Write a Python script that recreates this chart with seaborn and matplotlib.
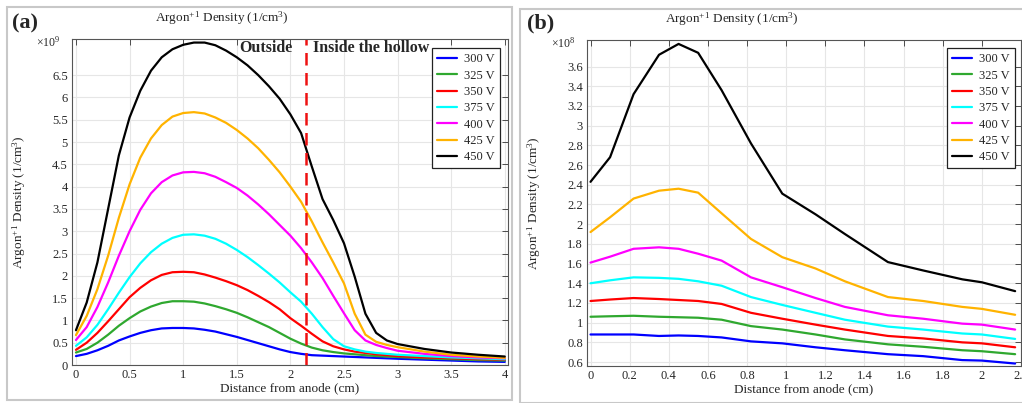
import numpy as np
import pandas as pd
import seaborn as sns
import matplotlib.pyplot as plt
from matplotlib.patches import Rectangle


volts = ['300 V', '325 V', '350 V', '375 V', '400 V', '425 V', '450 V']
colors = ['#0000ff', '#2fa82f', '#ff0000', '#00ffff', '#ff00ff', '#ffb300', '#000000']

# panel (a): density in 1e9 1/cm^3
x_a = [0, 0.1, 0.2, 0.3, 0.4, 0.5, 0.6, 0.7, 0.8, 0.9, 1.0, 1.1, 1.2, 1.3, 1.4, 1.5, 1.6, 1.7,
       1.8, 1.9, 2.0, 2.1, 2.2, 2.3, 2.4, 2.5, 2.6, 2.7, 2.8, 2.9, 3.0, 3.25, 3.5, 3.75, 4.0]
a_300 = [0.2, 0.25, 0.33, 0.43, 0.55, 0.64, 0.72, 0.78, 0.82, 0.83, 0.83, 0.82, 0.79, 0.75, 0.69, 0.63, 0.56, 0.49,
         0.42, 0.35, 0.29, 0.25, 0.22, 0.21, 0.2, 0.19, 0.18, 0.17, 0.16, 0.15, 0.14, 0.12, 0.1, 0.08, 0.07]
a_325 = [0.28, 0.36, 0.5, 0.68, 0.88, 1.05, 1.2, 1.31, 1.39, 1.43, 1.43, 1.42, 1.38, 1.32, 1.25, 1.17, 1.07, 0.96,
         0.85, 0.72, 0.59, 0.48, 0.39, 0.33, 0.29, 0.26, 0.24, 0.22, 0.2, 0.19, 0.18, 0.15, 0.13, 0.11, 0.1]
a_350 = [0.34, 0.5, 0.72, 0.98, 1.25, 1.52, 1.73, 1.9, 2.02, 2.08, 2.09, 2.08, 2.03, 1.96, 1.88, 1.79, 1.68, 1.55,
         1.41, 1.25, 1.05, 0.88, 0.7, 0.53, 0.42, 0.35, 0.3, 0.27, 0.24, 0.22, 0.2, 0.17, 0.15, 0.13, 0.12]
a_375 = [0.43, 0.62, 0.9, 1.25, 1.62, 1.97, 2.28, 2.53, 2.72, 2.85, 2.92, 2.93, 2.9, 2.83, 2.72, 2.58, 2.42, 2.24,
         2.05, 1.85, 1.63, 1.42, 1.15, 0.85, 0.58, 0.42, 0.35, 0.3, 0.27, 0.25, 0.23, 0.2, 0.17, 0.15, 0.13]
a_400 = [0.56, 0.85, 1.3, 1.85, 2.45, 3.0, 3.48, 3.85, 4.1, 4.25, 4.32, 4.33, 4.3, 4.22, 4.1, 3.97, 3.8, 3.6,
         3.38, 3.14, 2.9, 2.62, 2.3, 1.95, 1.55, 1.16, 0.78, 0.55, 0.45, 0.38, 0.32, 0.25, 0.2, 0.17, 0.15]
a_425 = [0.67, 1.1, 1.7, 2.45, 3.3, 4.05, 4.65, 5.08, 5.38, 5.57, 5.65, 5.67, 5.64, 5.55, 5.43, 5.27, 5.08, 4.86,
         4.6, 4.32, 4.0, 3.66, 3.22, 2.75, 2.3, 1.83, 1.15, 0.68, 0.52, 0.45, 0.4, 0.3, 0.23, 0.19, 0.16]
a_450 = [0.78, 1.4, 2.3, 3.5, 4.7, 5.55, 6.15, 6.6, 6.9, 7.08, 7.18, 7.23, 7.23, 7.17, 7.05, 6.9, 6.72, 6.5,
         6.25, 5.97, 5.62, 5.2, 4.45, 3.72, 3.25, 2.73, 1.98, 1.15, 0.72, 0.55, 0.47, 0.36, 0.28, 0.23, 0.19]

# panel (b): density in 1e8 1/cm^3
x_b = [0, 0.1, 0.22, 0.35, 0.45, 0.55, 0.67, 0.82, 0.98, 1.15, 1.3, 1.52, 1.7, 1.9, 2.0, 2.17]
b_300 = [0.88, 0.88, 0.88, 0.865, 0.87, 0.865, 0.85, 0.81, 0.79, 0.75, 0.72, 0.68, 0.66, 0.62, 0.615, 0.585]
b_325 = [1.06, 1.065, 1.07, 1.06, 1.055, 1.05, 1.03, 0.965, 0.93, 0.88, 0.83, 0.78, 0.755, 0.72, 0.71, 0.68]
b_350 = [1.22, 1.235, 1.25, 1.24, 1.23, 1.22, 1.19, 1.10, 1.04, 0.98, 0.93, 0.865, 0.84, 0.8, 0.79, 0.75]
b_375 = [1.40, 1.43, 1.46, 1.455, 1.445, 1.42, 1.375, 1.26, 1.18, 1.1, 1.03, 0.96, 0.93, 0.89, 0.88, 0.835]
b_400 = [1.61, 1.67, 1.75, 1.765, 1.75, 1.70, 1.63, 1.46, 1.36, 1.25, 1.16, 1.075, 1.04, 0.99, 0.98, 0.93]
b_425 = [1.92, 2.07, 2.26, 2.34, 2.36, 2.32, 2.11, 1.85, 1.665, 1.55, 1.42, 1.26, 1.22, 1.16, 1.14, 1.08]
b_450 = [2.43, 2.68, 3.32, 3.72, 3.83, 3.74, 3.36, 2.82, 2.31, 2.1, 1.9, 1.615, 1.53, 1.44, 1.41, 1.32]


def long_df(x, series):
    rows = []
    for v, ys in zip(volts, series):
        for xi, yi in zip(x, ys):
            rows.append((xi, yi, v))
    return pd.DataFrame(rows, columns=['x', 'y', 'volt'])


df_a = long_df(x_a, [a_300, a_325, a_350, a_375, a_400, a_425, a_450])
df_b = long_df(x_b, [b_300, b_325, b_350, b_375, b_400, b_425, b_450])

sns.set_style('whitegrid')
plt.rcParams['font.family'] = ['Liberation Serif', 'DejaVu Serif']
plt.rcParams['mathtext.fontset'] = 'custom'
plt.rcParams['mathtext.rm'] = 'Liberation Serif'
plt.rcParams['mathtext.it'] = 'Liberation Serif:italic'
plt.rcParams['mathtext.bf'] = 'Liberation Serif:bold'

fig = plt.figure(figsize=(10.22, 4.03), dpi=100)
W, H = 1022, 403

# grey window frames
fig.add_artist(Rectangle((7 / W, 3 / H), 505 / W, 393 / H, transform=fig.transFigure,
                         fill=False, ec='#c8c8c8', lw=1.5))
fig.add_artist(Rectangle((520 / W, 0 / H), 505 / W, 394 / H, transform=fig.transFigure,
                         fill=False, ec='#c8c8c8', lw=1.5))

ax_a = fig.add_axes([72 / W, 38 / H, 436 / W, 326 / H])
ax_b = fig.add_axes([587 / W, 37 / H, 434 / W, 326 / H])

pal = dict(zip(volts, colors))
title = r'Argon$^{+1}$ Density (1/cm$^3$)'
ylab = r'Argon$^{+1}$ Density (1/cm$^3$)'

for ax, df, tag, mult, tx, lx in [(ax_a, df_a, '(a)', r'$\times10^{9}$', 0.344, 12),
                                  (ax_b, df_b, '(b)', r'$\times10^{8}$', 0.334, 527)]:
    sns.lineplot(data=df, x='x', y='y', hue='volt', palette=pal, ax=ax, lw=1.6,
                 estimator=None, sort=False)
    ax.set_xlabel('Distance from anode (cm)', fontsize=9.5, labelpad=1)
    ax.set_ylabel(ylab, fontsize=9.5)
    ax.yaxis.set_label_coords(-0.101, 0.5)
    ax.text(tx, 1.036, title, transform=ax.transAxes, ha='center', va='bottom', fontsize=9.5)
    ax.text(-0.055, 0.99, mult, transform=ax.transAxes, ha='center', va='center', fontsize=8.5)
    fig.text(lx / W, 1 - 23 / H, tag, fontsize=16, fontweight='bold', va='center')
    ax.tick_params(direction='in', length=4, width=0.6, color='#333333', labelsize=9,
                   top=True, right=True, pad=3)
    for s in ax.spines.values():
        s.set_color('#555555')
        s.set_linewidth(0.8)
    ax.grid(color='#e6e6e6', lw=0.8)

leg_a = ax_a.legend(loc='upper right', bbox_to_anchor=(0.982, 0.972), fontsize=9, frameon=True,
                    fancybox=False, edgecolor='#222222', framealpha=1, handlelength=1.6,
                    borderaxespad=0, labelspacing=0.35, handletextpad=0.6)
leg_b = ax_b.legend(loc='upper right', bbox_to_anchor=(0.986, 0.975), fontsize=9, frameon=True,
                    fancybox=False, edgecolor='#222222', framealpha=1, handlelength=1.6,
                    borderaxespad=0, labelspacing=0.35, handletextpad=0.6)
for leg in (leg_a, leg_b):
    leg.get_frame().set_linewidth(0.9)

ax_a.set_xlim(-0.037, 4.03)
ax_a.set_ylim(0, 7.31)
ax_a.set_xticks(np.arange(0, 4.01, 0.5))
ax_a.set_xticklabels(['0', '0.5', '1', '1.5', '2', '2.5', '3', '3.5', '4'])
ax_a.set_yticks(np.arange(0, 6.51, 0.5))
ax_a.set_yticklabels(['0', '0.5', '1', '1.5', '2', '2.5', '3', '3.5', '4', '4.5', '5', '5.5', '6', '6.5'])
ax_a.axvline(2.145, color='#ee1111', ls=(0, (5, 3)), lw=1.8)
ax_a.text(2.02, 7.1, 'Outside', ha='right', va='center', fontsize=11.5, fontweight='bold')
ax_a.text(2.21, 7.1, 'Inside the hollow', ha='left', va='center', fontsize=11.5, fontweight='bold')

ax_b.set_xlim(-0.018, 2.17)
ax_b.set_ylim(0.56, 3.87)
ax_b.set_xticks(np.arange(0, 2.21, 0.2))
ax_b.set_xticklabels(['0', '0.2', '0.4', '0.6', '0.8', '1', '1.2', '1.4', '1.6', '1.8', '2', '2.2'])
ax_b.set_yticks(np.arange(0.6, 3.61, 0.2))
ax_b.set_yticklabels(['0.6', '0.8', '1', '1.2', '1.4', '1.6', '1.8', '2', '2.2', '2.4', '2.6', '2.8',
                      '3', '3.2', '3.4', '3.6'])

fig.savefig('out.png', dpi=100)
